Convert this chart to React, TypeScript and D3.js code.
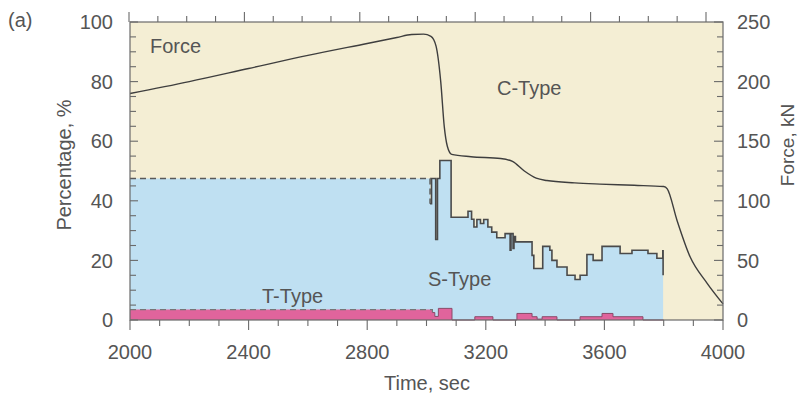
import React from "react";
import * as d3 from "d3";

// Force (kN) vs time
const forceTime = [2000, 2200, 2400, 2600, 2800, 2900, 2950, 2990, 3015, 3032, 3048, 3060, 3070, 3085, 3150, 3250, 3290, 3330, 3370, 3406, 3500, 3585, 3700, 3800, 3812, 3845, 3889, 3946, 4000];
const forceKN = [190, 200, 211, 222, 232, 237, 239.5, 239.8, 238, 230, 200, 162, 146, 139, 137, 135.5, 133, 125, 119, 117, 115, 114, 113, 112, 110, 83.5, 53, 31, 13.5];

// S-Type percentage (step)
const sTime = [2000, 3012, 3017, 3031, 3037, 3045, 3083, 3140, 3152, 3160, 3170, 3182, 3193, 3207, 3220, 3237, 3265, 3282, 3285, 3292, 3295, 3300, 3356, 3362, 3392, 3416, 3423, 3440, 3474, 3501, 3518, 3541, 3562, 3592, 3653, 3693, 3747, 3777, 3797, 3798];
const sPct = [47.5, 39, 47.5, 27, 47.5, 53.5, 34.5, 36.5, 33.8, 31.2, 33.7, 32.4, 33.7, 31.2, 29.5, 27.6, 29, 23.4, 29, 24, 28, 26.2, 21.7, 17.3, 24.7, 23.4, 20, 17.8, 15, 13.6, 15, 22, 20, 24.7, 22.3, 23.4, 22.3, 20.7, 23.2, 15];

// T-Type percentage (step)
const tTime = [2000, 3020, 3028, 3040, 3086, 3163, 3224, 3305, 3356, 3373, 3390, 3440, 3518, 3592, 3629, 3730, 3800];
const tPct = [3.5, 2.5, 1.2, 3.9, 0, 1.1, 0, 2.2, 1.1, 0.3, 1.1, 0, 1.1, 2.2, 1.1, 0, 0];

const xTicks = [2000, 2400, 2800, 3200, 3600, 4000];
const yTicks = [0, 20, 40, 60, 80, 100];
const fTicks = [0, 50, 100, 150, 200, 250];

export default function App() {
  const W = 802, H = 394;
  const L = 130, R = 723, T = 22, B = 320;
  const x = d3.scaleLinear().domain([2000, 4000]).range([L, R]);
  const xTop = d3.scaleLinear().domain([2000, 4000]).range([129, 706]);
  const y = d3.scaleLinear().domain([0, 100]).range([B, T]);
  const yF = d3.scaleLinear().domain([0, 250]).range([B, T]);

  const sData = sTime.map((t, i) => [t, sPct[i]] as [number, number]);
  const tData = tTime.map((t, i) => [t, tPct[i]] as [number, number]);
  const fData = forceTime.map((t, i) => [t, forceKN[i]] as [number, number]);

  const area = d3.area<[number, number]>().x(d => x(d[0])).y0(y(0)).y1(d => y(d[1])).curve(d3.curveStepAfter);
  const step = d3.line<[number, number]>().x(d => x(d[0])).y(d => y(d[1])).curve(d3.curveStepAfter);
  const fLine = d3.line<[number, number]>().x(d => x(d[0])).y(d => yF(d[1])).curve(d3.curveMonotoneX);

  const font = "'Liberation Sans', Arial, Helvetica, sans-serif";
  const tc = "#555";
  const ac = "#6a6a6a";
  const minorX = d3.range(2000, 4001, 100);
  const minorY = d3.range(0, 101, 5);

  return (
    <svg width={W} height={H} style={{ position: "absolute", left: 0, top: 0, background: "#fff" }} fontFamily={font}>
      <rect x={L} y={T} width={R - L} height={B - T} fill="#f4eed4" />
      <path d={area(sData) || ""} fill="#bfe0f2" />
      <path d={area(tData) || ""} fill="#e0649c" />
      {/* S line */}
      <path d={step(sData.slice(0, 2)) || ""} fill="none" stroke="#5a5a5a" strokeWidth={1.5} strokeDasharray="6,4" />
      <path d={step(sData.slice(1)) || ""} fill="none" stroke="#4a4a4a" strokeWidth={1.6} />
      {/* T line */}
      <path d={step(tData.slice(0, 2)) || ""} fill="none" stroke="#777" strokeWidth={1.2} strokeDasharray="6,4" />
      <path d={step(tData.slice(1)) || ""} fill="none" stroke="#8a4a68" strokeWidth={1} />
      {/* Force */}
      <path d={fLine(fData) || ""} fill="none" stroke="#3e3e3e" strokeWidth={1.4} />
      {/* frame */}
      <rect x={L} y={T} width={R - L} height={B - T} fill="none" stroke={ac} strokeWidth={1.2} />
      {/* bottom ticks */}
      {minorX.map(v => (
        <line key={"b" + v} x1={x(v)} x2={x(v)} y1={B} y2={B + (v % 400 === 0 ? 10 : 6)} stroke={ac} strokeWidth={1.1} />
      ))}
      {/* top ticks */}
      {minorX.map(v => (
        <line key={"t" + v} x1={xTop(v)} x2={xTop(v)} y1={T} y2={T - (v % 400 === 0 ? 10 : 6)} stroke={ac} strokeWidth={1.1} />
      ))}
      {/* left ticks */}
      {minorY.map(v => (
        <line key={"l" + v} x1={L} x2={L + (v % 20 === 0 ? 8 : 6)} y1={y(v)} y2={y(v)} stroke={ac} strokeWidth={1.1} />
      ))}
      {/* right ticks */}
      {minorY.map(v => (
        <line key={"r" + v} x1={R} x2={R - (v % 20 === 0 ? 9 : 6)} y1={y(v)} y2={y(v)} stroke={ac} strokeWidth={1.1} />
      ))}
      {/* labels */}
      {yTicks.map(v => (
        <text key={"yl" + v} x={113} y={y(v)} dy="0.36em" textAnchor="end" fontSize={20} fill={tc}>{v}</text>
      ))}
      {fTicks.map(v => (
        <text key={"fl" + v} x={737} y={yF(v)} dy="0.36em" textAnchor="start" fontSize={20} fill={tc}>{v}</text>
      ))}
      {xTicks.map(v => (
        <text key={"xl" + v} x={x(v)} y={359} textAnchor="middle" fontSize={20} fill={tc}>{v}</text>
      ))}
      <text x={427} y={390} textAnchor="middle" fontSize={20} fill={tc}>Time, sec</text>
      <text transform="translate(71,165) rotate(-90)" textAnchor="middle" fontSize={20} fill={tc}>Percentage, %</text>
      <text transform="translate(794,145) rotate(-90)" textAnchor="middle" fontSize={19} fill={tc}>Force, kN</text>
      <text x={8} y={27} fontSize={20} fill={tc}>(a)</text>
      <text x={150} y={53} fontSize={20} fill={tc}>Force</text>
      <text x={497} y={95} fontSize={20} fill={tc}>C-Type</text>
      <text x={428} y={286} fontSize={20} fill={tc}>S-Type</text>
      <text x={262} y={303} fontSize={20} fill={tc}>T-Type</text>
    </svg>
  );
}
